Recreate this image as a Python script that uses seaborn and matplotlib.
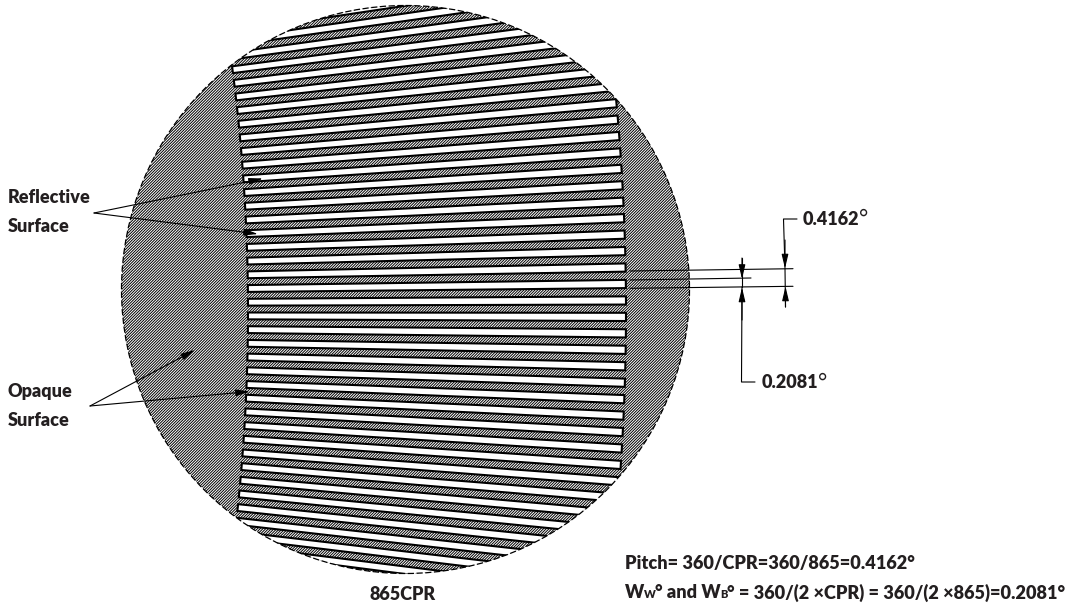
import numpy as np
import pandas as pd
import seaborn as sns
import matplotlib
matplotlib.use("Agg")
import matplotlib.pyplot as plt
from matplotlib.patches import Circle

# values printed on the drawing
cpr = 865
pitch_deg = 0.4162
width_deg = 0.2081
slot_index = [-19, -18, -17, -16, -15, -14, -13, -12, -11, -10, -9, -8, -7, -6, -5, -4, -3, -2, -1,
              0, 1, 2, 3, 4, 5, 6, 7, 8, 9, 10, 11, 12, 13, 14, 15, 16, 17, 18, 19]

# layout, in picture pixels
disk_x, disk_y, disk_r = 405.5, 289.5, 284
apex_x, apex_y = -1640, 311
r_in, r_out = 1888, 2266
tilt_deg = 0.683

TEXT_COLOR = "#231f20"
FONT = ["Lato", "Open Sans", "DejaVu Sans"]

sns.set_theme(style="white")
plt.rcParams["font.family"] = FONT
plt.rcParams["hatch.linewidth"] = 0.7

fig = plt.figure(figsize=(10.71, 6.05), dpi=100)
ax = fig.add_axes([0, 0, 1, 1])

disk = Circle((disk_x, disk_y), disk_r, facecolor="white", edgecolor="black",
              hatch="/" * 12, linewidth=0, zorder=1)
ax.add_patch(disk)

for k in slot_index:
    mid = tilt_deg + k * pitch_deg
    a = np.radians([mid - width_deg / 2, mid + width_deg / 2])
    xs = apex_x + np.array([r_in * np.cos(a[0]), r_out * np.cos(a[0]), r_out * np.cos(a[1]), r_in * np.cos(a[1])])
    ys = apex_y - np.array([r_in * np.sin(a[0]), r_out * np.sin(a[0]), r_out * np.sin(a[1]), r_in * np.sin(a[1])])
    poly = ax.fill(xs, ys, facecolor="white", edgecolor="black", linewidth=1.5, zorder=2)[0]
    poly.set_clip_path(disk)

ax.add_patch(Circle((disk_x, disk_y), disk_r, fill=False, edgecolor="black",
                    linewidth=0.9, linestyle=(0, (5, 2)), zorder=3))

# plain lines: dimension lines and hooks
dim_lines = {
    "top": [(630, 271), (793, 268.7)],
    "mid": [(630, 280), (751, 278)],
    "bot": [(630, 288.3), (793, 286.3)],
    "pitch_hook": [(797, 219), (783.5, 219), (785, 268.5), (785.5, 307)],
    "width_tick": [(742, 258), (742, 287)],
    "width_hook": [(755, 382), (741.5, 382), (742, 287)],
}
rows = [(name, x, y) for name, pts in dim_lines.items() for x, y in pts]
lines_df = pd.DataFrame(rows, columns=["line", "x", "y"])
sns.lineplot(data=lines_df, x="x", y="y", units="line", estimator=None, sort=False,
             color="black", linewidth=0.8, legend=False, ax=ax, zorder=4)

# leader arrows to the surfaces, and the heads on the dimension lines
arrows = [
    ((94, 213), (263, 178.5)),
    ((94, 213), (258, 234)),
    ((90, 406), (195, 350)),
    ((90, 406), (250, 391.5)),
    ((785, 240), (785, 268.5)),
    ((785.5, 307), (785.5, 286.5)),
    ((742, 258), (742, 279)),
    ((742, 320), (742, 287.5)),
]
for start, end in arrows:
    ax.annotate("", xy=end, xytext=start, zorder=5,
                arrowprops=dict(arrowstyle="-|>,head_length=0.85,head_width=0.2", color="black",
                                lw=0.8, mutation_scale=10, shrinkA=0, shrinkB=0))


def put_text(x, y, parts):
    # parts sit one after the other on the same baseline
    renderer = fig.canvas.get_renderer()
    inv = ax.transData.inverted()
    for text, size, weight in parts:
        t = ax.text(x, y, text, fontsize=size, fontweight=weight, color=TEXT_COLOR,
                    va="baseline", ha="left", zorder=6)
        box = t.get_window_extent(renderer)
        x = inv.transform((box.x1, box.y0))[0] - 0.5


ax.set_xlim(0, 1071)
ax.set_ylim(605, 0)
ax.set_xlabel("")
ax.set_ylabel("")
sns.despine(ax=ax, left=True, bottom=True)
ax.axis("off")

LABEL = 13
SMALL = 13.1
put_text(8, 203, [("Reflective", LABEL, "heavy")])
put_text(8, 231.5, [("Surface", LABEL, "heavy")])
put_text(8, 397.5, [("Opaque", LABEL, "heavy")])
put_text(8, 426.5, [("Surface", LABEL, "heavy")])
put_text(803, 225, [("0.4162", LABEL, "heavy"), ("°", LABEL + 3, "normal")])
put_text(762, 388.5, [("0.2081", LABEL, "heavy"), ("°", LABEL + 3, "normal")])
put_text(369, 600, [(f"{cpr}CPR", LABEL, "heavy")])
put_text(625, 569.5, [(f"Pitch= 360/CPR=360/{cpr}={pitch_deg}°", SMALL, "heavy")])
put_text(625, 598.5, [("W", SMALL, "heavy"), ("W", 8, "heavy"), ("° and W", SMALL, "heavy"), ("B", 8, "heavy"),
                      (f"° = 360/(2 ×CPR) = 360/(2 ×{cpr})={width_deg}°", SMALL, "heavy")])

fig.savefig("out.png", dpi=100, facecolor="white")
